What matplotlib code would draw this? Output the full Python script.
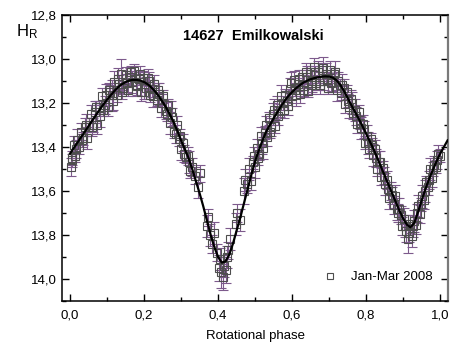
import numpy as np
import matplotlib
matplotlib.use('Agg')
import matplotlib.pyplot as plt
from matplotlib.lines import Line2D
from matplotlib.ticker import MultipleLocator, FuncFormatter

plt.rcParams['font.family'] = ['Liberation Sans', 'DejaVu Sans']

# observations, Jan-Mar 2008 (phase, H_R, error)
phase = [
    0.002, 0.006, 0.010, 0.014, 0.019, 0.024, 0.029, 0.034, 0.040, 0.045,
    0.051, 0.056, 0.062, 0.067, 0.073, 0.079, 0.085, 0.090, 0.096, 0.102,
    0.108, 0.114, 0.120, 0.126, 0.132, 0.138, 0.144, 0.150, 0.156, 0.162,
    0.168, 0.174, 0.180, 0.186, 0.192, 0.198, 0.204, 0.210, 0.216, 0.222,
    0.228, 0.234, 0.240, 0.246, 0.252, 0.258, 0.264, 0.270, 0.276, 0.282,
    0.288, 0.294, 0.300, 0.306, 0.312, 0.318, 0.324, 0.330,
    0.338, 0.345, 0.352, 0.370, 0.374, 0.378, 0.383, 0.388, 0.396, 0.402,
    0.405, 0.409, 0.412, 0.416, 0.420, 0.424, 0.428, 0.433, 0.448, 0.452,
    0.458, 0.470, 0.474, 0.478, 0.484,
    0.490, 0.495, 0.500, 0.505, 0.511, 0.516, 0.522, 0.527, 0.533, 0.538,
    0.544, 0.549, 0.555, 0.560, 0.566, 0.571, 0.577, 0.582, 0.588, 0.593,
    0.599, 0.604, 0.610, 0.615, 0.621, 0.626, 0.632, 0.637, 0.643, 0.648,
    0.654, 0.659, 0.665, 0.670, 0.676, 0.681, 0.687, 0.692, 0.698, 0.703,
    0.709, 0.714, 0.720, 0.725, 0.731, 0.736, 0.742, 0.747, 0.753, 0.758,
    0.764, 0.769, 0.775, 0.780, 0.786, 0.791, 0.797, 0.802, 0.808, 0.813,
    0.819, 0.824, 0.830, 0.835, 0.841, 0.846, 0.852, 0.857, 0.863, 0.868,
    0.874, 0.879, 0.885, 0.890, 0.896, 0.901, 0.907, 0.912, 0.918, 0.923,
    0.929, 0.934, 0.940, 0.945, 0.951, 0.956, 0.962, 0.967, 0.973, 0.978,
    0.984, 0.989, 0.995, 1.000,
    0.004, 0.017, 0.031, 0.043, 0.059, 0.070, 0.082, 0.094, 0.105, 0.117,
    0.129, 0.141, 0.153, 0.165, 0.177, 0.189, 0.201, 0.213, 0.225, 0.237,
    0.249, 0.261, 0.273, 0.285, 0.297, 0.309, 0.321, 0.497, 0.508, 0.519,
    0.530, 0.541, 0.552, 0.563, 0.574, 0.585, 0.596, 0.607, 0.618, 0.629,
    0.640, 0.651, 0.662, 0.673, 0.684, 0.695, 0.706, 0.717, 0.728, 0.739,
    0.750, 0.761, 0.772, 0.783, 0.794, 0.805, 0.816, 0.827, 0.838, 0.849,
    0.860, 0.871, 0.882, 0.893, 0.904, 0.915, 0.926, 0.937, 0.948, 0.959,
    0.970, 0.981, 0.992,
]
mag = [
    13.49, 13.45, 13.39, 13.44, 13.37, 13.40, 13.33, 13.36, 13.31, 13.36,
    13.30, 13.25, 13.30, 13.24, 13.30, 13.22, 13.17, 13.23, 13.165, 13.22,
    13.15, 13.165, 13.105, 13.165, 13.115, 13.07, 13.13, 13.075, 13.14, 13.08,
    13.105, 13.055, 13.125, 13.09, 13.15, 13.085, 13.13, 13.085, 13.165, 13.135,
    13.115, 13.185, 13.16, 13.225, 13.17, 13.235, 13.21, 13.29, 13.265, 13.33,
    13.30, 13.365, 13.41, 13.38, 13.445, 13.44, 13.51, 13.49,
    13.53, 13.58, 13.52, 13.76, 13.72, 13.80, 13.84, 13.79, 13.88, 13.95,
    13.91, 13.97, 13.99, 13.94, 13.96, 13.90, 13.87, 13.82, 13.75, 13.70,
    13.73, 13.60, 13.55, 13.57, 13.50,
    13.555, 13.47, 13.49, 13.405, 13.43, 13.35, 13.405, 13.335, 13.355, 13.27,
    13.31, 13.25, 13.305, 13.21, 13.235, 13.17, 13.23, 13.165, 13.215, 13.135,
    13.17, 13.095, 13.165, 13.115, 13.16, 13.08, 13.125, 13.06, 13.145, 13.07,
    13.10, 13.035, 13.11, 13.06, 13.12, 13.05, 13.10, 13.07, 13.13, 13.05,
    13.105, 13.07, 13.14, 13.10, 13.155, 13.12, 13.205, 13.15, 13.22, 13.18,
    13.245, 13.23, 13.295, 13.24, 13.315, 13.295, 13.38, 13.35, 13.41, 13.365,
    13.435, 13.41, 13.50, 13.47, 13.535, 13.495, 13.57, 13.55, 13.63, 13.60,
    13.665, 13.625, 13.70, 13.68, 13.76, 13.725, 13.78, 13.82, 13.75, 13.805,
    13.735, 13.755, 13.67, 13.705, 13.625, 13.64, 13.56, 13.58, 13.50, 13.54,
    13.48, 13.49, 13.43, 13.44,
    13.46, 13.41, 13.37, 13.30, 13.31, 13.22, 13.26, 13.21, 13.14, 13.19,
    13.09, 13.15, 13.11, 13.06, 13.12, 13.07, 13.15, 13.10, 13.17, 13.14,
    13.20, 13.25, 13.24, 13.34, 13.35, 13.43, 13.47, 13.44, 13.45, 13.38,
    13.30, 13.33, 13.23, 13.26, 13.20, 13.19, 13.11, 13.14, 13.09, 13.14,
    13.08, 13.12, 13.06, 13.10, 13.04, 13.09, 13.11, 13.06, 13.12, 13.13,
    13.19, 13.20, 13.26, 13.29, 13.32, 13.38, 13.39, 13.45, 13.47, 13.53,
    13.59, 13.62, 13.68, 13.71, 13.76, 13.79, 13.76, 13.70, 13.66, 13.60,
    13.55, 13.50, 13.46,
]
err = [
    0.04, 0.03, 0.04, 0.03, 0.05, 0.03, 0.04, 0.03, 0.04, 0.05,
    0.03, 0.04, 0.03, 0.05, 0.04, 0.03, 0.04, 0.03, 0.05, 0.04,
    0.03, 0.07, 0.05, 0.03, 0.04, 0.07, 0.03, 0.04, 0.03, 0.04,
    0.05, 0.03, 0.04, 0.03, 0.04, 0.03, 0.05, 0.04, 0.03, 0.04,
    0.04, 0.03, 0.05, 0.04, 0.03, 0.04, 0.03, 0.05, 0.04, 0.03,
    0.04, 0.03, 0.05, 0.04, 0.03, 0.04, 0.03, 0.04,
    0.04, 0.05, 0.04, 0.05, 0.04, 0.05, 0.04, 0.05, 0.04, 0.06,
    0.05, 0.07, 0.06, 0.05, 0.06, 0.05, 0.04, 0.05, 0.05, 0.04,
    0.05, 0.06, 0.05, 0.04, 0.05,
    0.04, 0.03, 0.05, 0.04, 0.03, 0.04, 0.05, 0.03, 0.04, 0.03,
    0.04, 0.05, 0.03, 0.04, 0.03, 0.05, 0.04, 0.03, 0.04, 0.05,
    0.03, 0.04, 0.05, 0.03, 0.04, 0.03, 0.05, 0.04, 0.03, 0.04,
    0.05, 0.04, 0.03, 0.05, 0.04, 0.03, 0.04, 0.05, 0.03, 0.04,
    0.04, 0.03, 0.05, 0.04, 0.03, 0.05, 0.04, 0.03, 0.05, 0.04,
    0.03, 0.05, 0.04, 0.03, 0.05, 0.04, 0.03, 0.05, 0.04, 0.03,
    0.05, 0.04, 0.03, 0.05, 0.04, 0.03, 0.05, 0.04, 0.05, 0.04,
    0.04, 0.05, 0.04, 0.05, 0.04, 0.05, 0.05, 0.06, 0.04, 0.05,
    0.05, 0.04, 0.05, 0.04, 0.05, 0.04, 0.03, 0.04, 0.05, 0.04,
    0.04, 0.03, 0.04, 0.03,
    0.03, 0.04, 0.03, 0.05, 0.04, 0.03, 0.05, 0.04, 0.03, 0.04,
    0.05, 0.03, 0.04, 0.03, 0.05, 0.04, 0.03, 0.04, 0.05, 0.03,
    0.04, 0.03, 0.05, 0.04, 0.03, 0.04, 0.05, 0.04, 0.03, 0.05,
    0.04, 0.03, 0.05, 0.04, 0.03, 0.04, 0.05, 0.03, 0.04, 0.03,
    0.05, 0.04, 0.03, 0.04, 0.05, 0.03, 0.04, 0.05, 0.03, 0.04,
    0.03, 0.05, 0.04, 0.03, 0.04, 0.05, 0.03, 0.04, 0.05, 0.04,
    0.03, 0.04, 0.05, 0.04, 0.05, 0.04, 0.05, 0.04, 0.03, 0.05,
    0.04, 0.03, 0.04,
]

# fitted lightcurve, sampled every 0.01 in phase from 0.00 to 1.02
fit_mag = [
    13.43, 13.405, 13.38, 13.355, 13.33, 13.305, 13.28, 13.255, 13.23, 13.207,
    13.185, 13.165, 13.145, 13.128, 13.115, 13.105, 13.098, 13.095, 13.095, 13.098,
    13.105, 13.115, 13.13, 13.148, 13.17, 13.195, 13.222, 13.253, 13.288, 13.327,
    13.37, 13.41, 13.45, 13.50, 13.555, 13.61, 13.67, 13.735, 13.80, 13.855,
    13.90, 13.925, 13.92, 13.89, 13.84, 13.78, 13.72, 13.655, 13.59, 13.525,
    13.465, 13.415, 13.37, 13.33, 13.30, 13.27, 13.242, 13.215, 13.19, 13.168,
    13.15, 13.134, 13.12, 13.108, 13.099, 13.092, 13.087, 13.083, 13.08, 13.079,
    13.08, 13.085, 13.097, 13.117, 13.145, 13.177, 13.21, 13.241, 13.272, 13.305,
    13.34, 13.375, 13.41, 13.45, 13.49, 13.53, 13.57, 13.61, 13.65, 13.69,
    13.725, 13.753, 13.765, 13.745, 13.697, 13.643, 13.592, 13.546, 13.505, 13.466,
    13.43, 13.40, 13.37,
]
fit_phase = np.linspace(0.0, 1.02, len(fit_mag))

fig = plt.figure(figsize=(4.63, 3.48), dpi=100)
ax = fig.add_axes([0.134, 0.135, 0.834, 0.822])

line, caps, bars = ax.errorbar(phase, mag, yerr=err, fmt='s', ms=5.5, mfc='none',
                               mec='#4e4e4e', mew=0.8, ecolor='#7d5a8c',
                               elinewidth=0.8, capsize=3.5, capthick=0.8, zorder=2)
for c in caps:
    c.set_color('#8a8a8a')
ax.plot(fit_phase, fit_mag, color='black', lw=1.6, zorder=3)

ax.set_xlim(-0.0216, 1.0216)
ax.set_ylim(14.1, 12.8)

comma = FuncFormatter(lambda v, p: f'{v:.1f}'.replace('.', ','))
ax.xaxis.set_major_locator(MultipleLocator(0.2))
ax.xaxis.set_minor_locator(MultipleLocator(0.1))
ax.yaxis.set_major_locator(MultipleLocator(0.2))
ax.yaxis.set_minor_locator(MultipleLocator(0.1))
ax.xaxis.set_major_formatter(comma)
ax.yaxis.set_major_formatter(comma)
ax.tick_params(which='both', direction='in', top=True, right=True, labelsize=9.5,
               width=1)
ax.tick_params(which='major', length=5)
ax.tick_params(which='minor', length=3)
ax.tick_params(axis='x', pad=6)
for s in ax.spines.values():
    s.set_linewidth(1.1)
ax.spines['right'].set_color('#7a7a7a')
ax.spines['right'].set_linewidth(1.6)

ax.set_xlabel('Rotational phase', fontsize=9.5, labelpad=6)
fig.text(0.035, 0.895, r'$\mathregular{H_R}$', fontsize=12)
ax.text(0.495, 0.928, '14627  Emilkowalski', transform=ax.transAxes,
        ha='center', va='center', fontsize=10.5, fontweight='bold')

handle = Line2D([], [], ls='none', marker='s', ms=5, mfc='none', mec='#4e4e4e',
                mew=0.8)
ax.legend([handle], ['Jan-Mar 2008'], loc='lower right', frameon=False,
          fontsize=9.5, bbox_to_anchor=(0.99, 0.02), handletextpad=0.6)

fig.savefig('out.png', dpi=100)
